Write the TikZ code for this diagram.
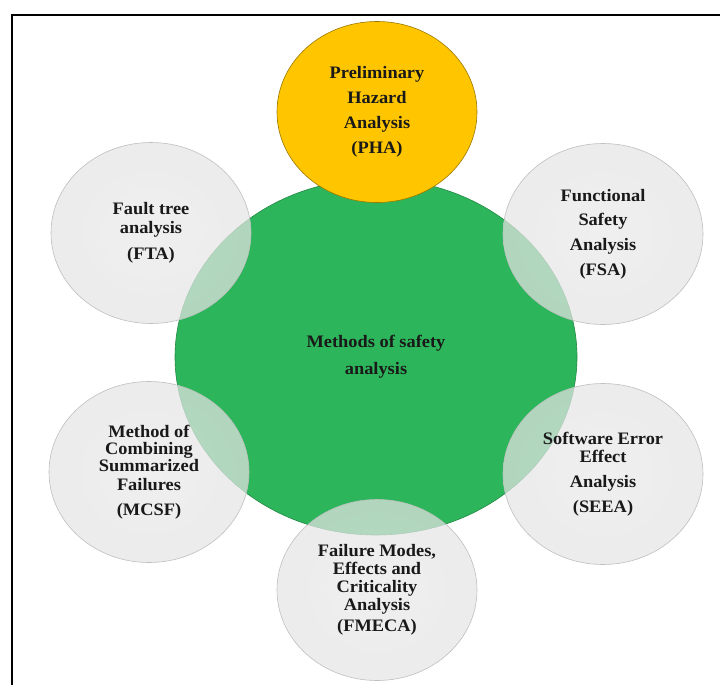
\documentclass[tikz,border=0pt]{standalone}
\usepackage{fontspec}
\setmainfont{Liberation Serif}[FakeStretch=1.05]
\usetikzlibrary{shapes.geometric}

\definecolor{hubgreen}{HTML}{2DB55B}
\definecolor{phagold}{HTML}{FFC600}
\pgfdeclareradialshading{discgray}{\pgfpointorigin}{color(0bp)=(gray!17); color(34bp)=(gray!23); color(45bp)=(gray!36); color(50bp)=(gray!52)}
\pgfdeclareradialshading{discgold}{\pgfpointorigin}{color(0bp)=(phagold); color(43bp)=(phagold); color(48bp)=(phagold!88!black); color(50bp)=(phagold!72!black)}

\begin{document}
\begin{tikzpicture}[x=1bp, y=-1bp,
        every node/.style={font=\fontsize{17.5bp}{18bp}\selectfont\bfseries, align=center, text=black!90},
        hub/.style={ellipse, inner sep=0pt, minimum width=402bp, minimum height=356bp, fill=hubgreen, draw=hubgreen!75!black, line width=0.6bp},
        method/.style={ellipse, inner sep=0pt, minimum width=200bp, minimum height=181bp, shade, shading=discgray, fill opacity=0.72, text opacity=1, draw=gray!50, line width=0.6bp},
        pha/.style={method, shading=discgold, fill opacity=1, draw=phagold!60!black}]
        \useasboundingbox (0,0) rectangle (720,685);
        \draw [line width=2bp] (12,685) -- (12,15) -- (720,15);

        \node (methods) at (376,357) [hub] {Methods of safety\\[9bp]analysis};
        \node (pha) at (377,112) [pha] {Preliminary\\[7bp]Hazard\\[7bp]Analysis\\[7bp](PHA)};
        \node (fta) at (151,233) [method] {Fault tree\\[1bp]analysis\\[8bp](FTA)};
        \node (fsa) at (603,234) [method] {Functional\\[6bp]Safety\\[7bp]Analysis\\[7bp](FSA)};
        \node (mcsf) at (149,472) [method] {Method of\\[-1bp]Combining\\[-1bp]Summarized\\[1bp]Failures\\[7bp](MCSF)};
        \node (seea) at (603,474) [method] {Software Error\\Effect\\[7bp]Analysis\\[7bp](SEEA)};
        \node (fmeca) at (377,590) [method] {Failure Modes,\\Effects and\\Criticality\\Analysis\\[3bp](FMECA)};
    \end{tikzpicture}
\end{document}
